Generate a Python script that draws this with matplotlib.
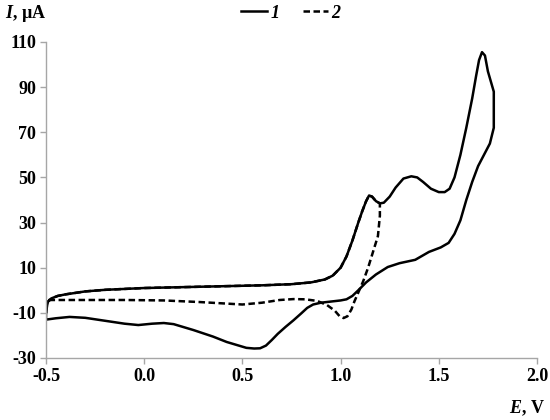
import matplotlib
matplotlib.use("Agg")
import matplotlib.pyplot as plt
from matplotlib.lines import Line2D

plt.rcParams['font.family'] = ['Liberation Serif', 'DejaVu Serif']
plt.rcParams['axes.unicode_minus'] = False
plt.rcParams['mathtext.fontset'] = 'custom'
plt.rcParams['mathtext.it'] = 'Liberation Serif:italic:bold'
plt.rcParams['mathtext.rm'] = 'Liberation Serif:bold'
plt.rcParams['mathtext.bf'] = 'Liberation Serif:bold'

# Curve 1 (solid): forward scan then reverse scan
e1 = [-0.50, -0.495, -0.49, -0.47, -0.44, -0.40, -0.30, -0.20, 0.0, 0.2, 0.4, 0.6, 0.75, 0.85, 0.92, 0.96,
      1.00, 1.03, 1.06, 1.09, 1.11, 1.13, 1.145, 1.16, 1.18, 1.20, 1.22, 1.25, 1.28, 1.32, 1.36, 1.39,
      1.42, 1.46, 1.50, 1.53, 1.555, 1.58, 1.61, 1.64, 1.67, 1.69, 1.705, 1.72, 1.735, 1.75, 1.78,
      1.78, 1.76, 1.73, 1.70, 1.67, 1.64, 1.61, 1.58, 1.55, 1.51, 1.45, 1.38, 1.30, 1.24, 1.18, 1.13,
      1.09, 1.06, 1.03, 1.00, 0.95, 0.90, 0.86, 0.83, 0.80, 0.76, 0.72, 0.68, 0.65, 0.62, 0.59, 0.56, 0.52,
      0.47, 0.42, 0.35, 0.25, 0.15, 0.10, 0.04, -0.03, -0.10, -0.20, -0.30, -0.38, -0.45, -0.50, -0.50]
i1 = [-10, -7, -5, -3.5, -2.5, -1.8, -0.5, 0.2, 1.0, 1.4, 1.8, 2.2, 2.7, 3.5, 4.8, 6.5,
      10, 15, 22, 30, 35, 39.5, 42, 41.5, 39.5, 38.5, 38.8, 41.5, 45.5, 49.5, 50.5, 50,
      48, 45, 43.5, 43.5, 45, 50, 60, 72, 85, 95, 102, 105.5, 104, 97, 88,
      72, 65, 60, 55, 48, 40, 31, 25, 21, 19, 17, 13.5, 12, 10.3, 7, 3.5,
      0, -2.5, -4, -4.5, -5, -5.5, -6.3, -7.8, -10.2, -13.3, -16.2, -19.3, -22, -24.5, -25.7, -25.8, -25.5,
      -24.2, -22.9, -20.5, -17.6, -15, -14.5, -14.8, -15.4, -14.8, -13.5, -12.2, -11.8, -12.4, -13, -10]

# Curve 2 (dashed)
e2 = [-0.50, -0.495, -0.49, -0.47, -0.44, -0.40, -0.30, -0.20, 0.0, 0.2, 0.4, 0.6, 0.75, 0.85, 0.92, 0.96,
      1.00, 1.03, 1.06, 1.09, 1.11, 1.13, 1.145, 1.16, 1.18, 1.20,
      1.20, 1.19, 1.165, 1.14, 1.115, 1.09, 1.07, 1.055, 1.035, 1.015, 0.995, 0.97, 0.93, 0.88,
      0.82, 0.76, 0.69, 0.60, 0.50, 0.40, 0.28, 0.10, -0.10, -0.30, -0.45, -0.50]
i2 = [-10, -7, -5, -3.5, -2.5, -1.8, -0.5, 0.2, 1.0, 1.4, 1.8, 2.2, 2.7, 3.5, 4.8, 6.5,
      10, 15, 22, 30, 35, 39.5, 42, 41.5, 39.5, 38.5,
      33, 24, 17, 10, 4, -1, -5, -8.5, -11.5, -12.3, -11.5, -9, -6.5, -4.7,
      -4, -3.9, -4.3, -5.5, -6.3, -5.8, -5.2, -4.5, -4.3, -4.3, -4.3, -4.3]

labels = ['1', '2']
xticks = [-0.5, 0.0, 0.5, 1.0, 1.5, 2.0]
yticks = [-30, -10, 10, 30, 50, 70, 90, 110]

LW = 1.8
DASH = (0, (2.6, 1.4))

fig = plt.figure(figsize=(5.5, 4.2), dpi=100)
ax = fig.add_axes([46 / 550, 62 / 420, (537 - 46) / 550, (358 - 42) / 420])

ax.plot(e1, i1, color='black', lw=LW, solid_joinstyle='round')
ax.plot(e2, i2, color='black', lw=LW, ls=DASH)

ax.set_xlim(-0.5, 2.0)
ax.set_ylim(-30, 110)
ax.set_xticks(xticks)
ax.set_xticklabels([f"{v:.1f}" for v in xticks])
ax.set_yticks(yticks)
ax.set_yticklabels([str(v) for v in yticks])
for s in ['top', 'right']:
    ax.spines[s].set_visible(False)
for s in ['left', 'bottom']:
    ax.spines[s].set_color('#a6a6a6')
    ax.spines[s].set_linewidth(1.0)
ax.tick_params(axis='both', color='#a6a6a6', length=4, width=1.0, labelsize=13, pad=3)
for lab in ax.get_xticklabels() + ax.get_yticklabels():
    lab.set_fontweight('bold')

fig.text(5 / 550, 1 - 13 / 420, r'$I$, µA', fontsize=13, fontweight='bold', ha='left', va='center')
fig.text(545 / 550, 1 - 408 / 420, r'$E$, V', fontsize=13, fontweight='bold', ha='right', va='center')

handles = [Line2D([], [], color='black', lw=LW),
           Line2D([], [], color='black', lw=LW, ls=DASH)]
leg = fig.legend(handles, labels, loc='center', bbox_to_anchor=(0.529, 1 - 13 / 420),
                 ncol=2, frameon=False, handlelength=1.4, handletextpad=0.2,
                 columnspacing=1.3, prop={'size': 13, 'weight': 'bold', 'style': 'italic'})

fig.savefig('out.png', dpi=100)
